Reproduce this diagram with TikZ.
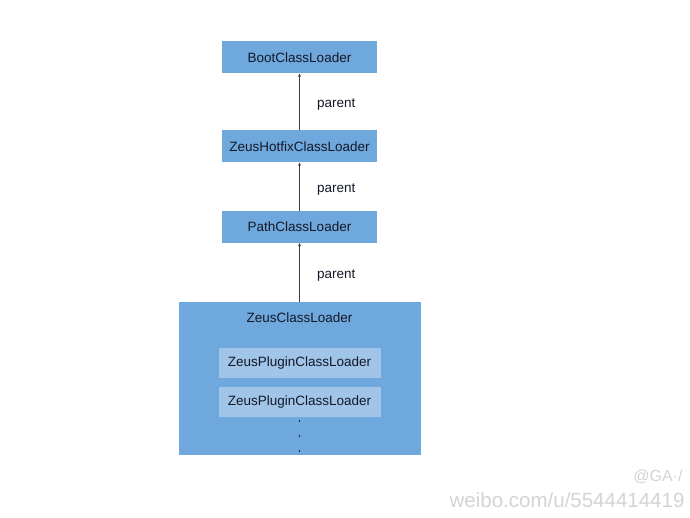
\documentclass[tikz,border=0pt]{standalone}
\usepackage{fontspec}
\setmainfont{Liberation Sans}
\definecolor{boxblue}{RGB}{111,168,220}
\definecolor{plugblue}{RGB}{160,197,232}
\definecolor{textdark}{RGB}{20,24,40}
\definecolor{edgegray}{RGB}{60,60,60}
\definecolor{markgray}{RGB}{212,212,212}
\begin{document}
\begin{tikzpicture}[x=1pt,y=-1pt,
  loader/.style={fill=boxblue,text=textdark,inner sep=0pt,minimum width=155pt,minimum height=32pt,font=\fontsize{13.5}{15}\selectfont},
  plugin/.style={fill=plugblue,text=textdark,inner sep=0pt,minimum width=162pt,minimum height=30pt,font=\fontsize{13.5}{15}\selectfont},
  parentedge/.style={->,>=stealth,draw=edgegray,thin},
  parentlabel/.style={right,xshift=14pt,yshift=-3pt,text=textdark,font=\fontsize{13.5}{15}\selectfont}]
\useasboundingbox[fill=white] (0,0) rectangle (690,518);
\node[loader] (boot) at (299.5,57.5) {BootClassLoader};
\node[loader] (hotfix) at (299.5,146.5) {ZeusHotfixClassLoader};
\node[loader] (path) at (299.5,227) {PathClassLoader};
\node[loader,minimum width=242pt,minimum height=153pt] (zeus) at (299.5,378.5) {};
\node[text=textdark,font=\fontsize{13.5}{15}\selectfont] (zeuslabel) at (299.5,318) {ZeusClassLoader};
\node[plugin] (pluginA) at (299.5,363) {ZeusPluginClassLoader};
\node[plugin] (pluginB) at (299.5,402) {ZeusPluginClassLoader};
\foreach \y in {421,436,451}
  \fill[textdark] (299.5,\y) circle (0.8);
\draw[parentedge] (hotfix.north) -- (boot.south) node[midway,parentlabel] {parent};
\draw[parentedge] (path.north) -- (hotfix.south) node[midway,parentlabel] {parent};
\draw[parentedge] (zeus.north) -- (path.south) node[midway,parentlabel] {parent};
% watermark
\node[text=markgray,font=\fontsize{16}{18}\selectfont,anchor=east] (markname) at (686,477) {@GA·/};
\node[text=markgray,font=\fontsize{20.5}{24}\selectfont,anchor=east] (markurl) at (688,500) {weibo.com/u/5544414419};
\end{tikzpicture}
\end{document}
